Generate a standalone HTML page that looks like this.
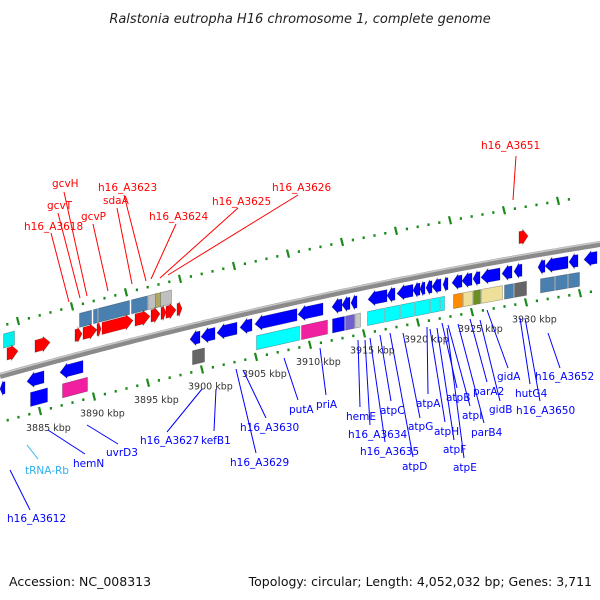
<!DOCTYPE html>
<html><head><meta charset="utf-8"><style>
html,body{margin:0;padding:0;background:#fff;}
svg{display:block;font-family:"DejaVu Sans","Liberation Sans",sans-serif;}
</style></head><body>
<svg id="chart" width="600" height="600" viewBox="0 0 600 600">
<text x="300" y="23" text-anchor="middle" font-size="13" font-style="italic" fill="#222">Ralstonia eutropha H16 chromosome 1, complete genome</text>
<g id="scales"></g>
<path id="backbone" fill="none" stroke="#8a8a8a" stroke-width="6"/>
<path id="backbone-hl" fill="none" stroke="#c8c8c8" stroke-width="1.5"/>
<g id="genes"></g>
<g id="labels" font-size="10.5"></g>
<text x="9" y="586" font-size="12.5" fill="#111">Accession: NC_008313</text>
<text x="592" y="586" font-size="12.5" fill="#111" text-anchor="end">Topology: circular; Length: 4,052,032 bp; Genes: 3,711</text>
</svg>
<script>
// ---- data ----
const scaleKbp = [3885,3890,3895,3900,3905,3910,3915,3920,3925,3930];
const minorKbp = [3878,3879,3880,3881,3882,3883,3884,3885,3886,3887,3888,3889,3890,3891,3892,3893,3894,3895,3896,3897,3898,3899,3900,3901,3902,3903,3904,3905,3906,3907,3908,3909,3910,3911,3912,3913,3914,3915,3916,3917,3918,3919,3920,3921,3922,3923,3924,3925,3926,3927,3928,3929,3930,3931,3932,3933,3934,3935,3936];
const geneStart = [3,79,93,98,131,148,155,160, 7,35,75,83,97,102,135,151,161,166,177,519,
  0,27,60,190,201,217,240,255,298,332,342,351,368,387,397,413,420,426,432,443,452,462,473,481,502,514,538,545,569,584,
  30,62,192,256,301,332,345,355,367,385,400,415,430,440,453,463,473,481,504,514,540,555,568];
const geneEnd = [15,92,98,130,148,157,162,172, 18,50,82,97,101,133,150,160,166,176,182,528,
  5,44,83,200,215,237,252,297,323,342,350,357,387,395,413,420,425,432,441,448,462,472,480,500,512,522,545,568,578,597,
  48,88,205,300,328,345,355,361,385,400,415,430,440,445,463,473,481,503,514,527,555,568,580];
const geneTrack = [0,0,0,0,0,0,0,0, 1,1,1,1,1,1,1,1,1,1,1,1,
  2,2,2,2,2,2,2,2,2,2,2,2,2,2,2,2,2,2,2,2,2,2,2,2,2,2,2,2,2,2,
  3,3,3,3,3,3,3,3,3,3,3,3,3,3,3,3,3,3,3,3,3,3,3];
const geneColor = ["#00f0f0","#4a80b0","#4a80b0","#4a80b0","#4a80b0","#c0c0c0","#b0a860","#c0c0c0",
  "#f00","#f00","#f00","#f00","#f00","#f00","#f00","#f00","#f00","#f00","#f00","#f00",
  "#00f","#00f","#00f","#00f","#00f","#00f","#00f","#00f","#00f","#00f","#00f","#00f","#00f","#00f","#00f","#00f","#00f","#00f","#00f","#00f","#00f","#00f","#00f","#00f","#00f","#00f","#00f","#00f","#00f","#00f",
  "#00f","#f020a0","#666","#00ffff","#f020a0","#00f","#7060d0","#c8c8c8","#00ffff","#00ffff","#00ffff","#00ffff","#00ffff","#00ffff","#ff8c00","#eee09a","#6b8e23","#eee09a","#4a80b0","#666","#4a80b0","#4a80b0","#4a80b0"];
const geneDir = [0,0,0,0,0,0,0,0, 1,1,1,1,1,1,1,1,1,1,1,1,
  -1,-1,-1,-1,-1,-1,-1,-1,-1,-1,-1,-1,-1,-1,-1,-1,-1,-1,-1,-1,-1,-1,-1,-1,-1,-1,-1,-1,-1,-1,
  0,0,0,0,0,0,0,0,0,0,0,0,0,0,0,0,0,0,0,0,0,0,0];
const labName = ["h16_A3651","gcvH","gcvT","h16_A3623","sdaA","h16_A3626","h16_A3625","gcvP","h16_A3624","h16_A3618",
 "h16_A3652","gidA","hutG4","parA2","gidB","h16_A3650","atpB","atpI","parB4","atpA","atpG","atpH","atpF","atpE","atpD","atpC","hemE","h16_A3634","h16_A3635","priA","putA","h16_A3630","h16_A3629","kefB1","h16_A3627","uvrD3","hemN","tRNA-Rb","h16_A3612"];
const labX = [481,52,47,98,103,272,212,81,149,24, 535,497,515,473,489,516,446,462,471,416,408,434,443,453,402,380,346,348,360,316,289,240,230,201,140,106,73,25,7];
const labY = [149,187,209,191,204,191,205,220,220,230, 380,380,397,395,413,414,401,419,436,407,430,435,453,471,470,414,420,438,455,408,413,431,466,444,444,456,467,474,522];
const lineX1 = [516,64,58,124,117,298,238,93,176,51, 560,508,530,487,500,540,457,470,484,428,420,445,454,464,413,391,360,370,385,326,298,266,256,214,167,118,85,38,30];
const lineY1 = [156,192,213,195,208,195,208,224,224,233, 368,368,384,382,401,401,388,406,423,394,418,422,440,458,457,401,407,425,442,395,400,418,453,431,432,444,454,459,510];
const lineX2 = [513,87,80,146,132,168,160,108,151,69, 548,487,520,470,480,525,442,448,458,427,403,430,437,447,390,380,358,365,370,320,284,243,236,216,202,87,48,27,10];
const lineY2 = [200,296,298,281,284,275,278,291,279,302, 333,310,318,319,320,318,323,325,324,327,333,329,328,328,333,335,340,340,338,348,358,370,369,389,389,425,430,445,470];

function f(x){ return 376 - 0.28*x + 0.0001*x*x; }
const NS="http://www.w3.org/2000/svg";
const trackOff=[-34,-20,13,32];
let d="M0,"+f(0); for(let x=5;x<=600;x+=5) d+=" L"+x+","+f(x).toFixed(2);
document.getElementById('backbone').setAttribute('d',d);
let d2="M0,"+(f(0)-2); for(let x=5;x<=600;x+=5) d2+=" L"+x+","+(f(x)-2).toFixed(2);
document.getElementById('backbone-hl').setAttribute('d',d2);

const kx = k => 202 + (k-3900)*10.8;
const sc=document.getElementById('scales');
function addScale(offset, shift, name){
  minorKbp.forEach(k=>{
    const x=kx(k)+shift; if(x<-2||x>602) return;
    const y=f(x)+offset;
    const major = k%5===0;
    if(major){
      const l=document.createElementNS(NS,'line');
      
      
      l.setAttribute('x1',x-1);l.setAttribute('y1',y-4);l.setAttribute('x2',x+1);l.setAttribute('y2',y+4);
      l.setAttribute('stroke','#1a8a1a');l.setAttribute('stroke-width','2.2');sc.appendChild(l);
    } else {
      const r=document.createElementNS(NS,'rect');
      
      
      r.setAttribute('x',x-1);r.setAttribute('y',y-1);r.setAttribute('width',2.2);r.setAttribute('height',2.6);
      r.setAttribute('fill','#1a8a1a');sc.appendChild(r);
    }
  });
}
addScale(-50,-22,'top-scale');
addScale(46,0,'bottom-scale');
scaleKbp.forEach(k=>{
  const x=kx(k);
  const t=document.createElementNS(NS,'text');
  
  
  t.setAttribute('x',x-14);t.setAttribute('y',f(x)+66);
  t.setAttribute('font-size','9.5');t.setAttribute('fill','#333');
  t.textContent=k+' kbp';sc.appendChild(t);
});

const g=document.getElementById('genes');
for(let i=0;i<geneStart.length;i++){
  const a=geneStart[i], b=geneEnd[i], off=trackOff[geneTrack[i]], dir=geneDir[i];
  const h = dir===0?14:15, hh=h/2;
  const head=Math.min(7,(b-a)*0.6);
  const Y=(x,dy)=>(f(x)+off+dy).toFixed(2);
  let pts;
  if(dir===1){
    const c=b-head;
    pts=[[a,-hh+1.5],[c,-hh+1.5],[c,-hh],[b,0],[c,hh],[c,hh-1.5],[a,hh-1.5]];
  } else if(dir===-1){
    const c=a+head;
    pts=[[b,-hh+1.5],[c,-hh+1.5],[c,-hh],[a,0],[c,hh],[c,hh-1.5],[b,hh-1.5]];
  } else {
    pts=[[a+0.5,-hh],[b-0.5,-hh],[b-0.5,hh],[a+0.5,hh]];
  }
  const p=document.createElementNS(NS,'polygon');
  
  
  p.setAttribute('points',pts.map(q=>q[0].toFixed(2)+','+Y(q[0],q[1])).join(' '));
  p.setAttribute('fill',geneColor[i]);
  p.setAttribute('stroke','rgba(0,0,0,0.3)');p.setAttribute('stroke-width','0.7');
  g.appendChild(p);
}

const lg=document.getElementById('labels');
for(let i=0;i<labName.length;i++){
  const col = i<10 ? '#f00' : (labName[i]==='tRNA-Rb' ? '#30b0f0' : '#00f');
  const l=document.createElementNS(NS,'line');
  
  
  l.setAttribute('x1',lineX1[i]);l.setAttribute('y1',lineY1[i]);l.setAttribute('x2',lineX2[i]);l.setAttribute('y2',lineY2[i]);
  l.setAttribute('stroke',col);l.setAttribute('stroke-width','1');lg.appendChild(l);
  const t=document.createElementNS(NS,'text');
  
  
  t.setAttribute('x',labX[i]);t.setAttribute('y',labY[i]);t.setAttribute('fill',col);
  t.textContent=labName[i];lg.appendChild(t);
}
</script>
</body></html>
